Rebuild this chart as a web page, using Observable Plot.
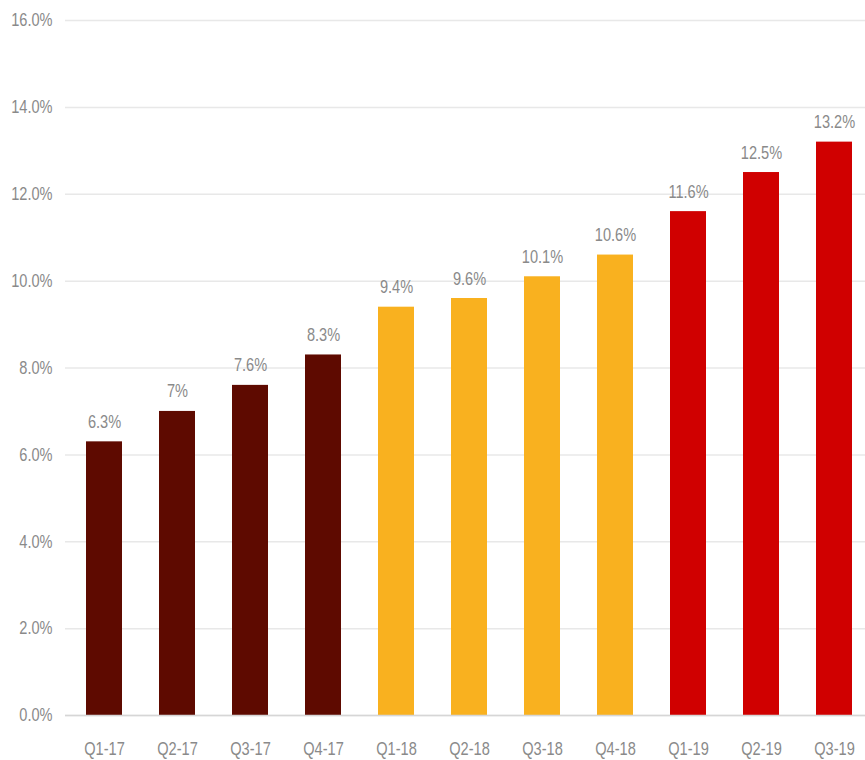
<!DOCTYPE html>
<html>
<head>
<meta charset="utf-8">
<script src="https://cdn.jsdelivr.net/npm/d3@7"></script>
<script src="https://cdn.jsdelivr.net/npm/@observablehq/plot@0.6"></script>
<style>
  html, body { margin: 0; padding: 0; background: #fff; }
  #chart svg { display: block; }
</style>
</head>
<body>
<div id="chart"></div>
<script>
const quarters = ["Q1-17","Q2-17","Q3-17","Q4-17","Q1-18","Q2-18","Q3-18","Q4-18","Q1-19","Q2-19","Q3-19"];
const values = [6.3, 7, 7.6, 8.3, 9.4, 9.6, 10.1, 10.6, 11.6, 12.5, 13.2];
const valueLabels = ["6.3%","7%","7.6%","8.3%","9.4%","9.6%","10.1%","10.6%","11.6%","12.5%","13.2%"];
const years = ["2017","2017","2017","2017","2018","2018","2018","2018","2019","2019","2019"];
const yearNames = ["2017","2018","2019"];
const yearColors = ["#5e0a00", "#f9b11f", "#d00000"];
const yTicks = [0, 2, 4, 6, 8, 10, 12, 14, 16];

const data = quarters.map((q, i) => ({q, v: values[i], label: valueLabels[i], year: years[i]}));

const font = "'Liberation Sans', Arial, sans-serif";

const chart = Plot.plot({
  width: 865,
  height: 760,
  marginTop: 20,
  marginBottom: 45,
  marginLeft: 65,
  marginRight: 0,
  style: {fontFamily: font, fontSize: "18px", color: "#8a8a8a", background: "#fff"},
  x: {domain: quarters, range: [84.5, 854], paddingInner: 0.51, paddingOuter: 0, label: null},
  y: {domain: [0, 16], ticks: yTicks, label: null},
  color: {domain: yearNames, range: yearColors},
  marks: [
    Plot.gridY(yTicks, {stroke: "#e8e8e8", strokeOpacity: 1, strokeWidth: 1.5}),
    Plot.axisY(yTicks, {tickSize: 0, tickPadding: 13, tickFormat: d => d.toFixed(1) + "%", fill: "#8a8a8a", fontSize: 18, label: null}),
    Plot.axisX({tickSize: 0, tickPadding: 27, fill: "#8a8a8a", fontSize: 18, label: null}),
    Plot.barY(data, {x: "q", y: "v", fill: "year"}),
    Plot.ruleY([0], {stroke: "#d6d6d6", strokeWidth: 1.5}),
    Plot.text(data, {x: "q", y: "v", text: "label", lineAnchor: "bottom", dy: -14, fill: "#8a8a8a", fontSize: 18})
  ]
});

// narrow the text horizontally around each label's anchor point (the reference uses a condensed face)
chart.querySelectorAll("text").forEach(t => {
  const x = parseFloat(t.getAttribute("x")) || 0;
  const tr = t.getAttribute("transform") || "";
  t.setAttribute("transform", `${tr} translate(${x},0) scale(0.81,1) translate(${-x},0)`.trim());
});

document.getElementById("chart").appendChild(chart);
</script>
</body>
</html>
